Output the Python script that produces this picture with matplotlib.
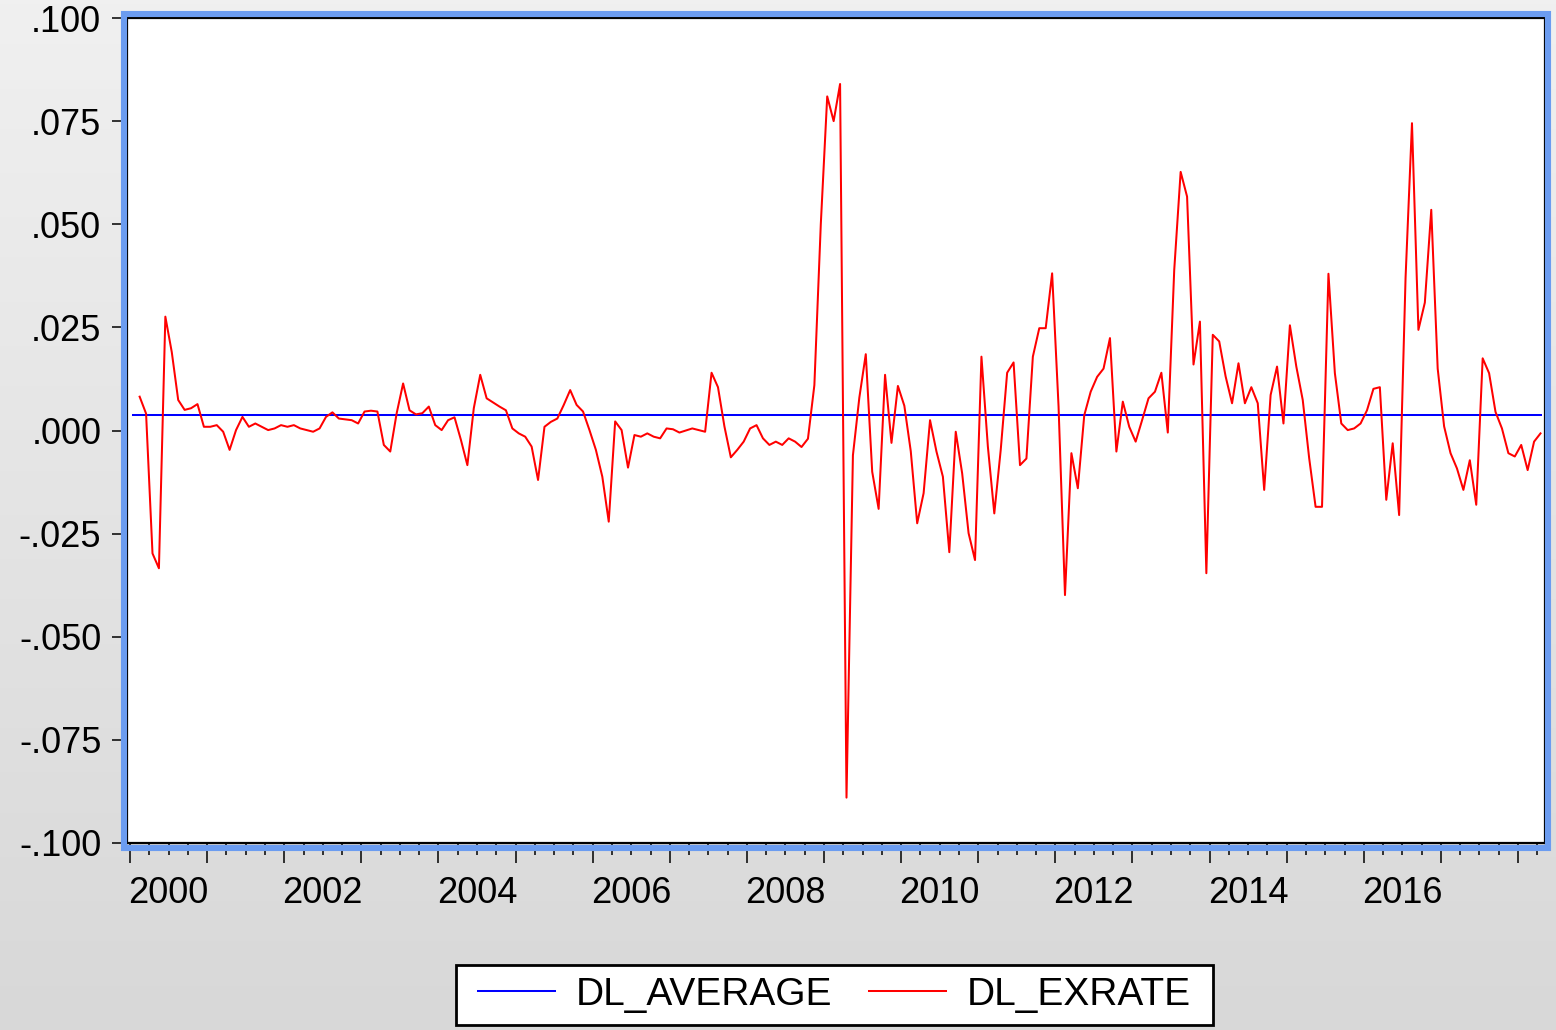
import numpy as np
import pandas as pd
import matplotlib
matplotlib.use("Agg")
import matplotlib.pyplot as plt
from matplotlib.patches import Rectangle
from matplotlib.lines import Line2D
from matplotlib.colors import LinearSegmentedColormap

plt.rcParams["font.family"] = ["Liberation Sans", "DejaVu Sans"]

# ---------------- data ----------------
# monthly observations, 2000M02 .. 2018M04
exrate_months = pd.period_range("2000-02", "2018-04", freq="M")
dl_exrate = [
    # 2000 (Feb-Dec)
    0.0082, 0.0041, -0.0298, -0.0334, 0.0276, 0.0190, 0.0074, 0.0050, 0.0054, 0.0064, 0.0009,
    # 2001
    0.0009, 0.0013, -0.0003, -0.0047, 0.0001, 0.0033, 0.0009, 0.0017, 0.0009, 0.0001, 0.0005, 0.0013,
    # 2002
    0.0009, 0.0013, 0.0005, 0.0001, -0.0003, 0.0005, 0.0033, 0.0044, 0.0029, 0.0027, 0.0025, 0.0017,
    # 2003
    0.0046, 0.0048, 0.0046, -0.0035, -0.0051, 0.0042, 0.0114, 0.0049, 0.0039, 0.0042, 0.0058, 0.0013,
    # 2004
    0.0001, 0.0025, 0.0032, -0.0023, -0.0084, 0.0054, 0.0135, 0.0078, 0.0068, 0.0058, 0.0049, 0.0005,
    # 2005
    -0.0007, -0.0015, -0.0039, -0.0120, 0.0009, 0.0021, 0.0029, 0.0062, 0.0098, 0.0062, 0.0046, 0.0001,
    # 2006
    -0.0047, -0.0112, -0.0221, 0.0022, 0.0001, -0.0090, -0.0011, -0.0015, -0.0007, -0.0015, -0.0019, 0.0005,
    # 2007
    0.0003, -0.0005, 0.0000, 0.0005, 0.0001, -0.0003, 0.0140, 0.0105, 0.0010, -0.0065, -0.0047, -0.0027,
    # 2008
    0.0005, 0.0013, -0.0019, -0.0035, -0.0027, -0.0035, -0.0019, -0.0027, -0.0040, -0.0020, 0.0110, 0.0500,
    # 2009
    0.0810, 0.0750, 0.0840, -0.0890, -0.0060, 0.0080, 0.0185, -0.0100, -0.0190, 0.0135, -0.0030, 0.0108,
    # 2010
    0.0060, -0.0050, -0.0225, -0.0152, 0.0025, -0.0051, -0.0112, -0.0295, -0.0003, -0.0104, -0.0249, -0.0314,
    # 2011
    0.0179, -0.0039, -0.0201, -0.0047, 0.0140, 0.0165, -0.0084, -0.0068, 0.0179, 0.0248, 0.0248, 0.0381,
    # 2012
    0.0058, -0.0399, -0.0055, -0.0140, 0.0037, 0.0094, 0.0130, 0.0150, 0.0224, -0.0051, 0.0070, 0.0009,
    # 2013
    -0.0027, 0.0025, 0.0078, 0.0094, 0.0140, -0.0005, 0.0389, 0.0627, 0.0567, 0.0160, 0.0264, -0.0346,
    # 2014
    0.0232, 0.0216, 0.0131, 0.0066, 0.0163, 0.0066, 0.0105, 0.0066, -0.0144, 0.0086, 0.0155, 0.0017,
    # 2015
    0.0255, 0.0155, 0.0074, -0.0067, -0.0185, -0.0185, 0.0380, 0.0139, 0.0017, 0.0001, 0.0005, 0.0017,
    # 2016
    0.0049, 0.0101, 0.0105, -0.0168, -0.0031, -0.0205, 0.0370, 0.0745, 0.0244, 0.0310, 0.0535, 0.0150,
    # 2017
    0.0010, -0.0055, -0.0092, -0.0144, -0.0072, -0.0180, 0.0175, 0.0139, 0.0045, 0.0005, -0.0055, -0.0063,
    # 2018 (Jan-Apr)
    -0.0035, -0.0096, -0.0027, -0.0007,
]

average_months = pd.period_range("2000-01", "2018-04", freq="M")
dl_average_value = 0.0037
dl_average = [dl_average_value] * len(average_months)

y_ticks = [-0.100, -0.075, -0.050, -0.025, 0.000, 0.025, 0.050, 0.075, 0.100]
y_tick_labels = ["-.100", "-.075", "-.050", "-.025", ".000", ".025", ".050", ".075", ".100"]
x_label_years = [2000, 2002, 2004, 2006, 2008, 2010, 2012, 2014, 2016]
series_names = ["DL_AVERAGE", "DL_EXRATE"]


def to_decimal_year(periods):
    return np.array([p.year + (p.month - 0.5) / 12.0 for p in periods])


x_ex = to_decimal_year(exrate_months)
x_avg = to_decimal_year(average_months)

# ---------------- figure ----------------
W, H = 1556, 1030
fig = plt.figure(figsize=(W / 100, H / 100), dpi=100)

# grey gradient background
bg = fig.add_axes([0, 0, 1, 1], zorder=-10)
grad = np.linspace(0, 1, 256).reshape(-1, 1)
bg.imshow(grad, aspect="auto", extent=[0, 1, 0, 1], origin="upper",
          cmap=LinearSegmentedColormap.from_list("g", ["#f0f0f0", "#d8d8d8"]))
bg.axis("off")

left, right, top, bottom = 127, 1545, 18, 843
ax = fig.add_axes([left / W, 1 - bottom / H, (right - left) / W, (bottom - top) / H])
ax.set_facecolor("white")

LW = 1.45
ax.plot(x_avg, dl_average, color="#0000ff", lw=LW, zorder=3)
ax.plot(x_ex, dl_exrate, color="#ff0000", lw=LW, zorder=4)

ax.set_xlim(1999.961, 2018.35)
ax.set_ylim(-0.1, 0.1)

for s in ax.spines.values():
    s.set_color("black")
    s.set_linewidth(1.6)

ax.set_yticks(y_ticks)
ax.set_yticklabels(y_tick_labels)
ax.tick_params(axis="y", direction="out", length=10.5, width=1.1, labelsize=26, pad=8, colors="black")

ax.set_xticks(np.arange(2000, 2019))
ax.set_xticklabels([])
ax.set_xticks(np.arange(2000, 2018.35, 0.25), minor=True)
ax.tick_params(axis="x", which="major", direction="out", length=14.5, width=1.1)
ax.tick_params(axis="x", which="minor", direction="out", length=8.5, width=1.1)

sec = ax.secondary_xaxis("bottom")
sec.set_xticks([y + 0.5 for y in x_label_years])
sec.set_xticklabels([str(y) for y in x_label_years])
sec.tick_params(length=0, pad=24, labelsize=26)
sec.spines["bottom"].set_visible(False)

# light-blue selection frame around the plot
frame = Rectangle((124 / W, 1 - 848 / H), (1548 - 124) / W, (848 - 14) / H,
                  transform=fig.transFigure, fill=False, edgecolor="#6b9cf0",
                  linewidth=4.4, zorder=5)
fig.add_artist(frame)

# legend (frame drawn separately so it can be wider than it is tall)
handles = [Line2D([], [], color="#0000ff", lw=LW), Line2D([], [], color="#ff0000", lw=LW)]
leg = fig.legend(handles, series_names, loc="center", bbox_to_anchor=(834.5 / W, 1 - 995 / H),
                 ncol=2, frameon=False, fontsize=28, handlelength=1.98, handletextpad=0.54,
                 columnspacing=0.93, borderpad=0.3)
leg.set_zorder(6)
fig.canvas.draw()
bb = leg.get_window_extent(fig.canvas.get_renderer())
extra = 10
inv = fig.transFigure.inverted()
(x0, y0), (x1, y1) = inv.transform([(bb.x0 - extra, bb.y0), (bb.x1 + extra, bb.y1)])
legbox = Rectangle((x0, y0), x1 - x0, y1 - y0, transform=fig.transFigure,
                   facecolor="white", edgecolor="black", linewidth=2, zorder=5.5)
fig.add_artist(legbox)

fig.savefig("out.png", dpi=100)
